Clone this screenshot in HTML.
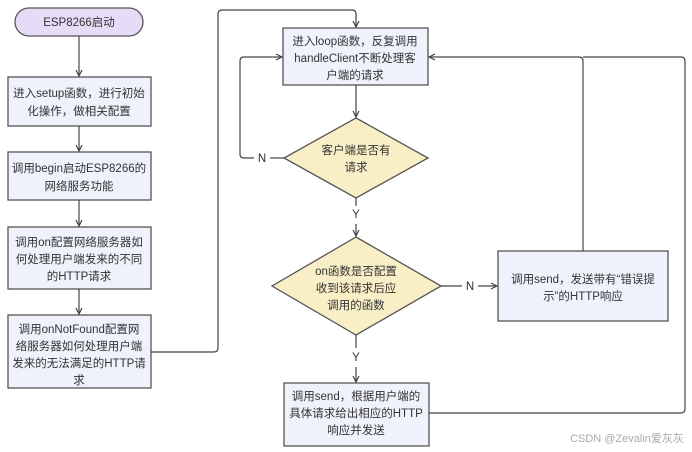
<!DOCTYPE html>
<html><head><meta charset="utf-8"><style>
html,body{margin:0;padding:0;background:#fff;}
svg{display:block;}
text{font-family:"Liberation Sans","Noto Sans CJK SC",sans-serif;font-size:11.5px;fill:#333;text-anchor:middle;}
.b{fill:#eff2fb;stroke:#555;stroke-width:1.3;}
.d{fill:#f9efc7;stroke:#555;stroke-width:1.3;}
.l{fill:none;stroke:#444;stroke-width:1.2;}
</style></head><body>
<svg width="692" height="452" viewBox="0 0 692 452" xmlns="http://www.w3.org/2000/svg">
<defs><marker id="a" markerWidth="8" markerHeight="8" refX="7" refY="4" orient="auto" markerUnits="userSpaceOnUse"><path d="M1,1 L7,4 L1,7" fill="none" stroke="#444" stroke-width="1.2"/></marker></defs>
<!-- left column -->
<rect x="15" y="8" width="128" height="28" rx="14" fill="#e7dcf8" stroke="#555" stroke-width="1.3"/>
<text x="79" y="26">ESP8266启动</text>
<path class="l" d="M79,36 V76" marker-end="url(#a)"/>
<rect class="b" x="8" y="77" width="143" height="49"/>
<text x="79" y="97">进入setup函数，进行初始</text><text x="79" y="115">化操作，做相关配置</text>
<path class="l" d="M79,126 V151" marker-end="url(#a)"/>
<rect class="b" x="8" y="152" width="143" height="48"/>
<text x="79" y="172">调用begin启动ESP8266的</text><text x="79" y="190">网络服务功能</text>
<path class="l" d="M79,200 V226" marker-end="url(#a)"/>
<rect class="b" x="8" y="227" width="143" height="62"/>
<text x="79" y="246">调用on配置网络服务器如</text><text x="79" y="263">何处理用户端发来的不同</text><text x="79" y="280">的HTTP请求</text>
<path class="l" d="M79,289 V314" marker-end="url(#a)"/>
<rect class="b" x="8" y="315" width="143" height="73"/>
<text x="79" y="333">调用onNotFound配置网</text><text x="79" y="350">络服务器如何处理用户端</text><text x="79" y="367">发来的无法满足的HTTP请</text><text x="79" y="384">求</text>
<path class="l" d="M151,352 H214 Q218,352 218,348 V14 Q218,10 222,10 H352 Q356,10 356,14 V27" marker-end="url(#a)"/>
<!-- loop box -->
<rect class="b" x="283" y="28" width="145" height="57"/>
<text x="355" y="45">进入loop函数，反复调用</text><text x="355" y="62">handleClient不断处理客</text><text x="355" y="79">户端的请求</text>
<path class="l" d="M356,85 V117" marker-end="url(#a)"/>
<polygon class="d" points="356,118 428,158 356,198 284,158"/>
<text x="356" y="154">客户端是否有</text><text x="356" y="171">请求</text>
<path class="l" d="M284,158 H270"/>
<text x="262" y="162">N</text>
<path class="l" d="M254,158 H244 Q240,158 240,154 V61 Q240,57 244,57 H282" marker-end="url(#a)"/>
<path class="l" d="M356,198 V206"/>
<text x="356" y="218">Y</text>
<path class="l" d="M356,224 V236" marker-end="url(#a)"/>
<polygon class="d" points="356,237 441,286 356,335 272,286"/>
<text x="356" y="275">on函数是否配置</text><text x="356" y="292">收到该请求后应</text><text x="356" y="309">调用的函数</text>
<path class="l" d="M441,286 H462"/>
<text x="470" y="290">N</text>
<path class="l" d="M478,286 H497" marker-end="url(#a)"/>
<rect class="b" x="498" y="251" width="170" height="70"/>
<text x="583" y="283">调用send，发送带有“错误提</text><text x="583" y="300">示”的HTTP响应</text>
<path class="l" d="M583,251 V61 Q583,57 579,57 H429" marker-end="url(#a)"/>
<path class="l" d="M356,335 V348"/>
<text x="356" y="361">Y</text>
<path class="l" d="M356,367 V382" marker-end="url(#a)"/>
<rect class="b" x="284" y="383" width="145" height="63"/>
<text x="356" y="400">调用send，根据用户端的</text><text x="356" y="417">具体请求给出相应的HTTP</text><text x="356" y="434">响应并发送</text>
<path class="l" d="M429,413 H681 Q685,413 685,409 V61 Q685,57 681,57 H583"/>
<text x="627" y="442" style="fill:#aaa;font-size:11px">CSDN @Zevalin爱灰灰</text>
</svg>
</body></html>
